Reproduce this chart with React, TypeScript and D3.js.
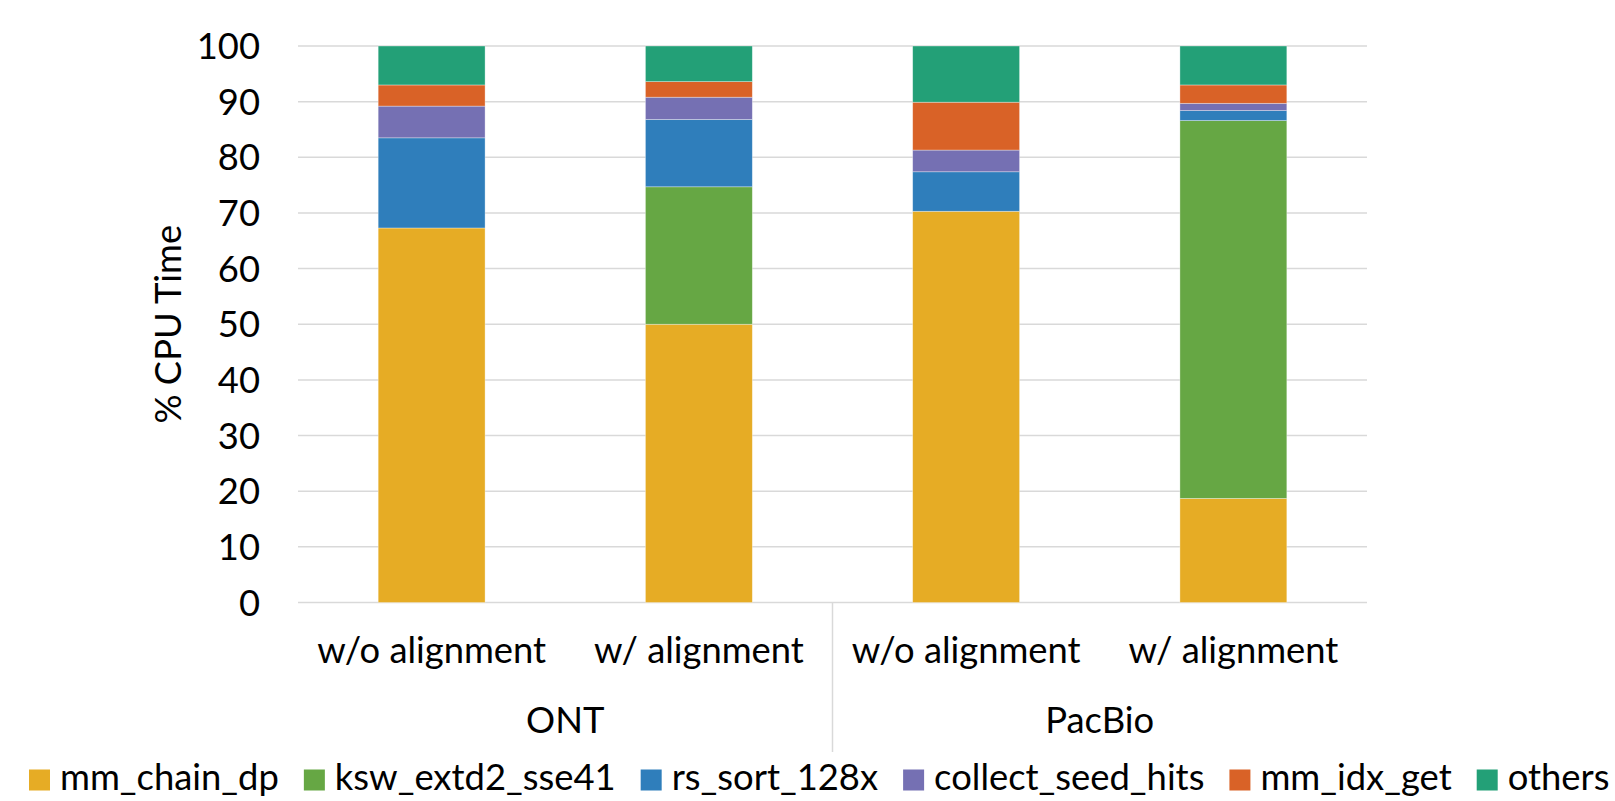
import React, { useEffect, useRef } from "react";
import * as d3 from "d3";

const categories = ["w/o alignment", "w/ alignment", "w/o alignment", "w/ alignment"];
const groups = ["ONT", "PacBio"];
const seriesNames = ["mm_chain_dp", "ksw_extd2_sse41", "rs_sort_128x", "collect_seed_hits", "mm_idx_get", "others"];
const mmChainDp = [67.3, 50.0, 70.3, 18.7];
const kswExtd2 = [0, 24.7, 0, 67.9];
const rsSort = [16.2, 12.1, 7.1, 1.8];
const collectSeedHits = [5.7, 4.0, 3.9, 1.3];
const mmIdxGet = [3.8, 2.8, 8.6, 3.3];
const others = [7.0, 6.4, 10.1, 7.0];
const yTicks = [0, 10, 20, 30, 40, 50, 60, 70, 80, 90, 100];
const colors = ["#E6AC25", "#66A744", "#2F7EBB", "#7570B3", "#D96227", "#23A077"];

const W = 1615, H = 801;
const FONT = "Lato, 'Open Sans', sans-serif";

export default function App() {
  const ref = useRef<SVGSVGElement>(null);
  useEffect(() => {
    const svg = d3.select(ref.current!);
    svg.selectAll("*").remove();

    const measure = (s: string, size: number) => {
      const probe = svg.append("text").attr("font-family", FONT).attr("font-size", size).text(s);
      const w = (probe.node() as SVGTextElement).getComputedTextLength();
      probe.remove();
      return w;
    };
    // calibrate font size so category label width matches reference
    const fs = 100 * 229 / measure("w/o alignment", 100);
    const legendTotalText = d3.sum(seriesNames, n => measure(n, 100));
    const lfs = 100 * 1270 / legendTotalText;

    const left = 298, right = 1367, top = 46, bottom = 602.5;
    const x = d3.scaleBand<number>().domain(d3.range(categories.length)).range([left, right]).paddingInner(0.6).paddingOuter(0.3);
    const y = d3.scaleLinear().domain([0, 100]).range([bottom, top]);

    const rows = categories.map((c, i) => ({
      i,
      [seriesNames[0]]: mmChainDp[i],
      [seriesNames[1]]: kswExtd2[i],
      [seriesNames[2]]: rsSort[i],
      [seriesNames[3]]: collectSeedHits[i],
      [seriesNames[4]]: mmIdxGet[i],
      [seriesNames[5]]: others[i],
    }));
    const stacked = d3.stack<any>().keys(seriesNames)(rows);

    // gridlines
    svg.append("g").selectAll("line").data(yTicks).join("line")
      .attr("x1", left).attr("x2", right)
      .attr("y1", d => y(d)).attr("y2", d => y(d))
      .attr("stroke", "#d9d9d9").attr("stroke-width", 1.5);

    // bars
    svg.append("g").selectAll("g").data(stacked).join("g")
      .attr("fill", (_d, k) => colors[k])
      .selectAll("rect").data(d => d).join("rect")
      .attr("x", d => x(d.data.i)!)
      .attr("width", x.bandwidth())
      .attr("y", d => y(d[1]))
      .attr("height", d => Math.max(0, y(d[0]) - y(d[1])))
      .attr("stroke", "#ffffff").attr("stroke-opacity", 0.45).attr("stroke-width", 0.75);

    // y tick labels
    svg.append("g").selectAll("text").data(yTicks).join("text")
      .attr("x", 260).attr("y", d => y(d)).attr("dy", "0.36em")
      .attr("text-anchor", "end").attr("font-family", FONT).attr("font-size", fs).attr("fill", "#000")
      .text(d => d);

    // y title
    svg.append("text")
      .attr("transform", `translate(168,${(top + bottom) / 2}) rotate(-90)`)
      .attr("dy", "0.36em").attr("text-anchor", "middle")
      .attr("font-family", FONT).attr("font-size", fs).attr("fill", "#000")
      .text("% CPU Time");

    // category labels
    svg.append("g").selectAll("text").data(categories).join("text")
      .attr("x", (_d, i) => x(i)! + x.bandwidth() / 2).attr("y", 663)
      .attr("text-anchor", "middle").attr("font-family", FONT).attr("font-size", fs).attr("fill", "#000")
      .text(d => d);

    // group labels + divider
    const mid = (x(1)! + x.bandwidth() + x(2)!) / 2;
    const gx = [(left + mid) / 2, (mid + right) / 2];
    svg.append("g").selectAll("text").data(groups).join("text")
      .attr("x", (_d, i) => gx[i]).attr("y", 733)
      .attr("text-anchor", "middle").attr("font-family", FONT).attr("font-size", fs).attr("fill", "#000")
      .text(d => d);
    svg.append("line").attr("x1", mid).attr("x2", mid).attr("y1", bottom).attr("y2", 752)
      .attr("stroke", "#d9d9d9").attr("stroke-width", 1.5);

    // legend
    const lg = svg.append("g");
    const items = seriesNames.map((n, k) => {
      const g = lg.append("g");
      g.append("rect").attr("width", 21).attr("height", 21).attr("y", 769.5).attr("fill", colors[k]);
      const t = g.append("text").attr("x", 31).attr("y", 790).attr("font-family", FONT).attr("font-size", lfs).attr("fill", "#000").text(n);
      return { g, w: 31 + (t.node() as SVGTextElement).getComputedTextLength() };
    });
    const gap = 25;
    let cx = 29;
    items.forEach(it => { it.g.attr("transform", `translate(${cx},0)`); cx += it.w + gap; });
  }, []);

  return (
    <svg ref={ref} width={W} height={H} style={{ position: "absolute", left: 0, top: 0, background: "#fff" }} />
  );
}
